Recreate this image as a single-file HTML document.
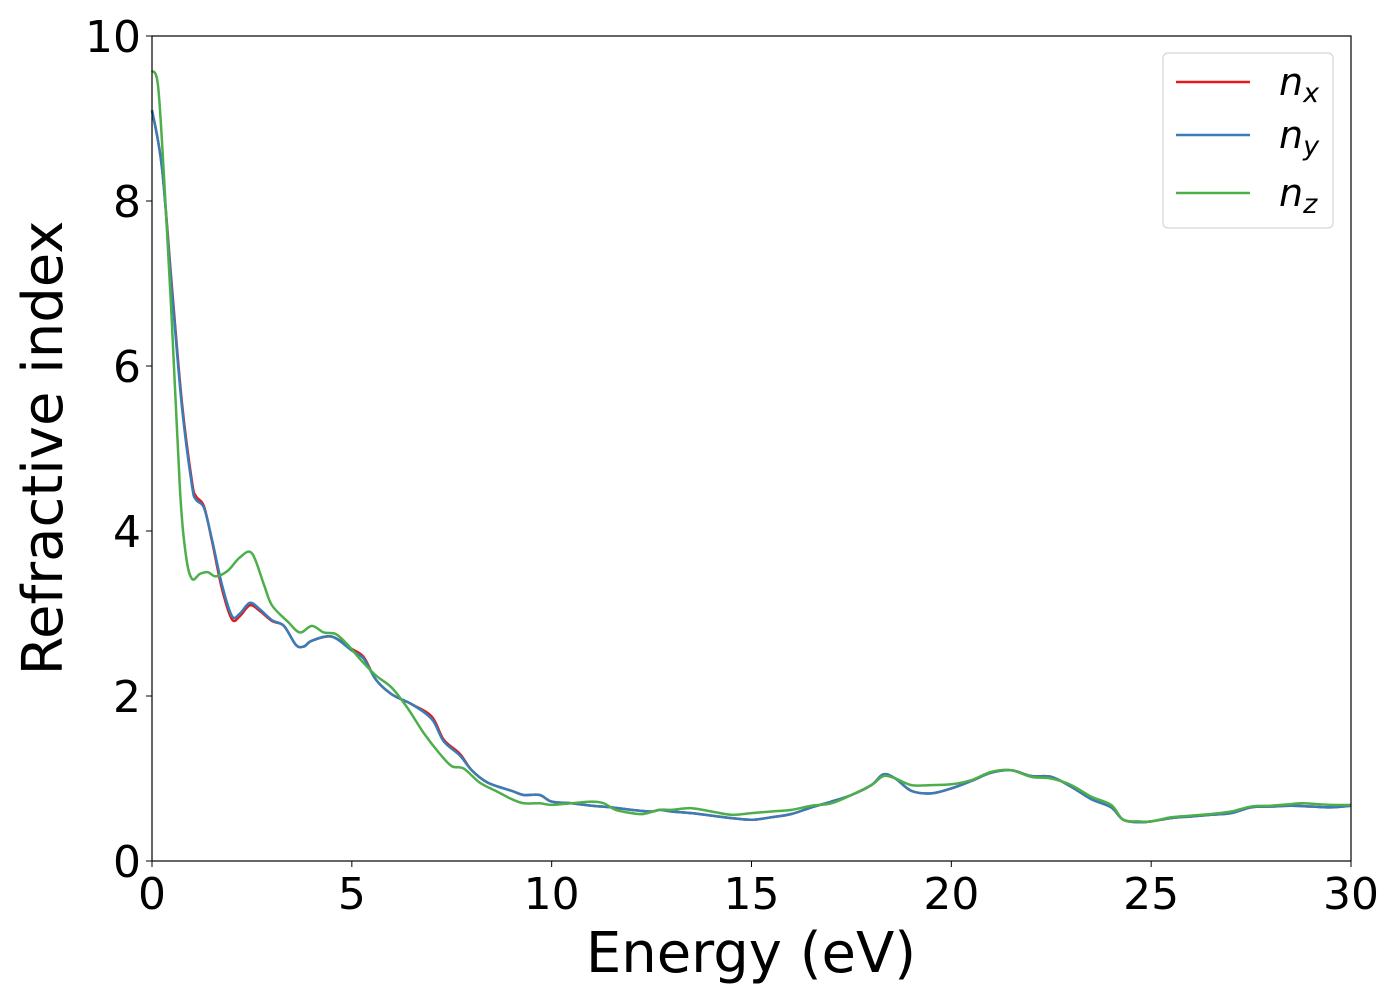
<!DOCTYPE html>
<html><head><meta charset="utf-8"><style>
html,body{margin:0;padding:0;background:#fff;}
svg{display:block;font-family:"DejaVu Sans","Liberation Sans",sans-serif;}
</style></head><body>
<svg id="chart" width="1400" height="1000" viewBox="0 0 1400 1000">
<rect x="0" y="0" width="1400" height="1000" fill="#fff"/>
<g id="series"></g>
<rect x="152" y="36" width="1199" height="825" fill="none" stroke="#000" stroke-width="1.2"/>
<g id="xticks"></g><g id="yticks"></g>
<text x="751" y="972" font-size="56" text-anchor="middle">Energy (eV)</text>
<text transform="translate(62,448) rotate(-90)" font-size="56" text-anchor="middle">Refractive index</text>
<g>
<rect x="1163" y="53" width="170" height="175" rx="5" fill="#fff" fill-opacity="0.8" stroke="#d6d6d6" stroke-width="1.2"/>
<g><line x1="1176" y1="82" x2="1250" y2="82" stroke="#e41a1c" stroke-width="2.5"/><text x="1279" y="95" font-size="38" font-style="italic">n<tspan font-size="27" dy="7">x</tspan></text></g>
<g><line x1="1176" y1="135" x2="1250" y2="135" stroke="#377eb8" stroke-width="2.5"/><text x="1279" y="148" font-size="38" font-style="italic">n<tspan font-size="27" dy="7">y</tspan></text></g>
<g><line x1="1176" y1="193" x2="1250" y2="193" stroke="#4daf4a" stroke-width="2.5"/><text x="1279" y="206" font-size="38" font-style="italic">n<tspan font-size="27" dy="7">z</tspan></text></g>
</g>
</svg>
<script>
const xTickLabels=[0,5,10,15,20,25,30];
const yTickLabels=[0,2,4,6,8,10];
const eY=[0,0.25,0.5,0.75,1.0,1.1,1.3,1.5,1.75,2.0,2.2,2.45,2.7,3.0,3.3,3.6,3.8,4.0,4.5,5.0,5.3,5.6,6.0,6.5,7.0,7.3,7.7,8.0,8.4,9.0,9.3,9.7,10,10.5,11,11.5,12,12.5,12.7,13,13.5,14,14.5,15,15.5,16,16.5,17,17.5,18,18.3,18.6,19,19.5,20,20.5,21,21.5,22,22.5,23,23.5,24,24.3,24.7,25,25.5,26,26.5,27,27.5,28,28.5,29,29.5,30];
const nY=[9.1,8.4,6.9,5.5,4.55,4.38,4.28,3.9,3.35,2.97,3.0,3.13,3.05,2.92,2.85,2.62,2.6,2.67,2.72,2.55,2.45,2.2,2.02,1.9,1.72,1.45,1.28,1.1,0.95,0.85,0.8,0.8,0.72,0.7,0.67,0.65,0.62,0.6,0.62,0.6,0.58,0.55,0.52,0.5,0.53,0.57,0.65,0.72,0.8,0.92,1.05,1.0,0.85,0.82,0.88,0.97,1.07,1.1,1.03,1.02,0.9,0.75,0.65,0.5,0.47,0.48,0.52,0.54,0.56,0.58,0.65,0.66,0.67,0.66,0.65,0.67];
const nX=[9.1,8.4,6.95,5.55,4.6,4.42,4.3,3.88,3.3,2.93,2.97,3.1,3.03,2.91,2.85,2.62,2.6,2.67,2.72,2.57,2.47,2.2,2.02,1.9,1.75,1.47,1.3,1.1,0.95,0.85,0.8,0.8,0.72,0.7,0.67,0.65,0.62,0.6,0.62,0.6,0.58,0.55,0.52,0.5,0.53,0.57,0.65,0.72,0.8,0.92,1.05,1.0,0.85,0.82,0.88,0.97,1.07,1.1,1.03,1.02,0.9,0.75,0.65,0.5,0.47,0.48,0.52,0.54,0.56,0.58,0.65,0.66,0.67,0.66,0.65,0.67];
const eZ=[0,0.15,0.3,0.5,0.7,0.85,1.0,1.2,1.4,1.6,1.9,2.2,2.5,2.8,3.0,3.4,3.7,4.0,4.3,4.6,4.9,5.2,5.6,6.0,6.4,6.8,7.2,7.5,7.8,8.2,8.6,9.0,9.3,9.7,10,10.5,11,11.3,11.6,12,12.3,12.7,13,13.5,14,14.5,15,15.5,16,16.5,17,17.5,18,18.3,18.6,19,19.5,20,20.5,21,21.5,22,22.5,23,23.5,24,24.3,24.7,25,25.5,26,26.5,27,27.5,28,28.5,28.8,29.5,30];
const nZ=[9.58,9.4,8.3,6.5,4.5,3.7,3.42,3.48,3.5,3.45,3.52,3.68,3.73,3.35,3.1,2.9,2.77,2.85,2.77,2.75,2.62,2.45,2.25,2.1,1.85,1.55,1.3,1.15,1.12,0.95,0.85,0.75,0.7,0.7,0.68,0.7,0.72,0.7,0.62,0.58,0.57,0.62,0.62,0.64,0.6,0.56,0.58,0.6,0.62,0.67,0.7,0.8,0.92,1.03,1.0,0.92,0.92,0.93,0.98,1.08,1.1,1.02,1.0,0.92,0.78,0.68,0.5,0.48,0.48,0.53,0.55,0.57,0.6,0.66,0.67,0.69,0.7,0.68,0.68];

const NS="http://www.w3.org/2000/svg";
const X0=152,X1=1351,Y0=861,Y1=36,XMAX=30,YMAX=10;
function sx(v){return X0+(X1-X0)*v/XMAX;}
function sy(v){return Y0-(Y0-Y1)*v/YMAX;}
function path(xs,ys){
  const p=xs.map((x,i)=>[sx(x),sy(ys[i])]);
  let d="M"+p[0][0]+","+p[0][1];
  for(let i=0;i<p.length-1;i++){
    const a=p[Math.max(i-1,0)],b=p[i],c=p[i+1],e=p[Math.min(i+2,p.length-1)];
    d+=" C"+(b[0]+(c[0]-a[0])/6)+","+(b[1]+(c[1]-a[1])/6)+" "+(c[0]-(e[0]-b[0])/6)+","+(c[1]-(e[1]-b[1])/6)+" "+c[0]+","+c[1];
  }
  return d;
}
const g=document.getElementById("series");
[[eY,nX,"#e41a1c","series-nx"],[eY,nY,"#377eb8","series-ny"],[eZ,nZ,"#4daf4a","series-nz"]].forEach(s=>{
  const el=document.createElementNS(NS,"path");
  el.setAttribute("d",path(s[0],s[1]));
  el.setAttribute("fill","none");el.setAttribute("stroke",s[2]);el.setAttribute("stroke-width","2.5");
  
  
  g.appendChild(el);
});
const xt=document.getElementById("xticks");
xTickLabels.forEach(v=>{
  const l=document.createElementNS(NS,"line");
  l.setAttribute("x1",sx(v));l.setAttribute("x2",sx(v));l.setAttribute("y1",Y0);l.setAttribute("y2",Y0+6);l.setAttribute("stroke","#000");
  
  
  xt.appendChild(l);
  const t=document.createElementNS(NS,"text");
  t.setAttribute("x",sx(v));t.setAttribute("y",909);t.setAttribute("font-size","44");t.setAttribute("text-anchor","middle");
  t.textContent=v;
  
  
  xt.appendChild(t);
});
const yt=document.getElementById("yticks");
yTickLabels.forEach(v=>{
  const l=document.createElementNS(NS,"line");
  l.setAttribute("x1",X0-6);l.setAttribute("x2",X0);l.setAttribute("y1",sy(v));l.setAttribute("y2",sy(v));l.setAttribute("stroke","#000");
  
  
  yt.appendChild(l);
  const t=document.createElementNS(NS,"text");
  t.setAttribute("x",141);t.setAttribute("y",sy(v)+16);t.setAttribute("font-size","44");t.setAttribute("text-anchor","end");
  t.textContent=v;
  
  
  yt.appendChild(t);
});
</script>
</body></html>
